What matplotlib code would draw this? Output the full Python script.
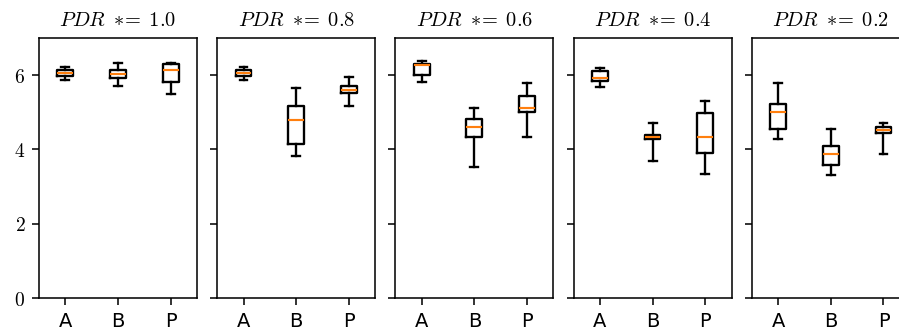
import matplotlib
matplotlib.use('Agg')
import matplotlib.pyplot as plt
from matplotlib.ticker import StrMethodFormatter

plt.rcParams['mathtext.fontset'] = 'cm'
plt.rcParams['font.size'] = 10

# box statistics, one list per panel, order A, B, P
pdr_levels = ['1.0', '0.8', '0.6', '0.4', '0.2']
labels = ['A', 'B', 'P']

whishi = [[6.22, 6.32, 6.32], [6.22, 5.65, 5.95], [6.38, 5.12, 5.79], [6.18, 4.71, 5.31], [5.79, 4.54, 4.71]]
q3 = [[6.13, 6.13, 6.29], [6.13, 5.16, 5.72], [6.31, 4.81, 5.45], [6.10, 4.39, 4.97], [5.22, 4.08, 4.61]]
med = [[6.07, 6.04, 6.13], [6.07, 4.80, 5.61], [6.26, 4.60, 5.12], [5.92, 4.34, 4.34], [5.02, 3.88, 4.53]]
q1 = [[5.97, 5.93, 5.81], [5.97, 4.14, 5.53], [6.01, 4.34, 5.02], [5.84, 4.27, 3.90], [4.55, 3.57, 4.43]]
whislo = [[5.86, 5.72, 5.49], [5.86, 3.82, 5.18], [5.81, 3.54, 4.33], [5.69, 3.69, 3.35], [4.29, 3.32, 3.88]]

dpi = 140
W, H = 899, 334
fig = plt.figure(figsize=(W / dpi, H / dpi), dpi=dpi)

ax_w = 158 / W
ax_h = 260 / H
line = {'linewidth': 1.2}
first = None
for i, pdr in enumerate(pdr_levels):
    left = (39 + i * 178.2) / W
    ax = fig.add_axes([left, 36 / H, ax_w, ax_h], sharey=first)
    if first is None:
        first = ax
    stats = []
    for j, lab in enumerate(labels):
        stats.append({'label': lab, 'med': med[i][j], 'q1': q1[i][j], 'q3': q3[i][j],
                      'whislo': whislo[i][j], 'whishi': whishi[i][j], 'fliers': []})
    ax.bxp(stats, showfliers=False, medianprops={'color': 'C1', 'linewidth': 1.1},
           boxprops=line, whiskerprops=line, capprops=line)
    ax.set_title(r'$PDR\;\ast\!\!=\;' + pdr + '$', fontsize=10.5)
    ax.set_ylim(0, 7)
    ax.set_yticks([0, 2, 4, 6])
    if i == 0:
        ax.yaxis.set_major_formatter(StrMethodFormatter('${x:.0f}$'))
    else:
        ax.tick_params(labelleft=False)

fig.savefig('out.png', dpi=dpi)
